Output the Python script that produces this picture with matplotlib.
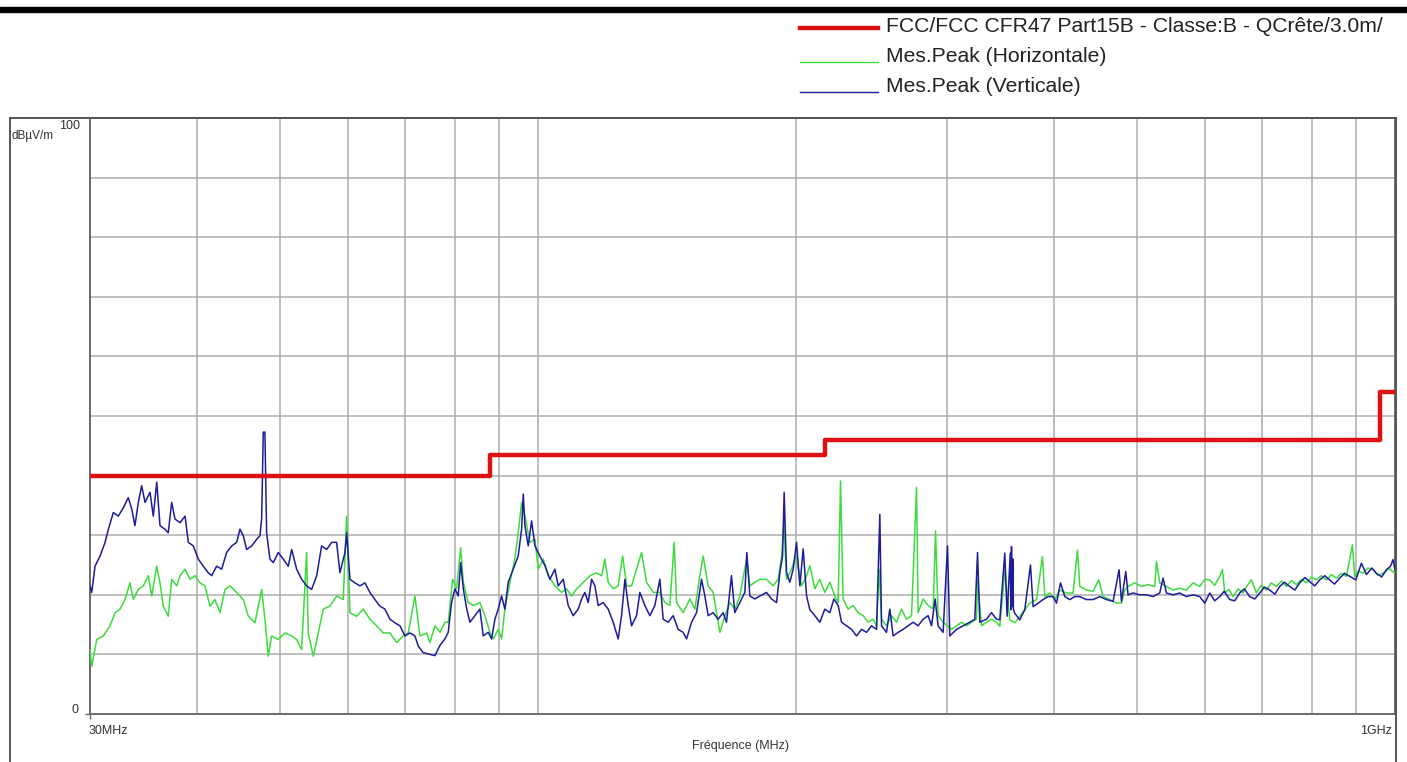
import matplotlib.pyplot as plt
from matplotlib.lines import Line2D
from matplotlib.patches import Rectangle
from matplotlib.ticker import NullFormatter

plt.rcParams['font.family'] = ['Liberation Sans', 'DejaVu Sans']

# FCC CFR47 Part 15B class B limit at 3 m (dBuV/m)
limit_freq = [30, 88, 216, 960, 1000]
limit_level = [40, 43.5, 46, 54, 54]

# peak scan, horizontal antenna polarisation (MHz, dBuV/m)
freq_h = [30.00, 30.14, 30.55, 31.09, 31.66, 32.09, 32.52, 32.96, 33.40, 33.70,
          34.16, 34.62, 35.09, 35.41, 35.89, 36.21, 36.53, 37.02, 37.36, 37.87,
          38.21, 38.73, 39.25, 39.78, 40.31, 40.86, 41.41, 41.97, 42.54, 43.12,
          43.70, 44.49, 45.29, 45.91, 46.73, 47.58, 48.00, 48.43, 48.87, 49.75,
          50.66, 51.58, 52.27, 52.98, 53.69, 53.93, 54.66, 55.40, 56.15, 57.16,
          58.20, 59.24, 59.79, 60.32, 61.40, 62.52, 63.65, 64.80, 65.97, 67.16,
          68.38, 69.61, 70.55, 71.83, 72.80, 74.12, 74.78, 75.80, 76.82, 77.86,
          78.55, 79.48, 80.34, 81.22, 81.80, 82.89, 84.02, 85.53, 86.68, 87.86,
          88.65, 89.84, 90.67, 91.47, 92.71, 93.96, 94.80, 95.67, 96.53, 97.83,
          99.16, 100.04, 101.41, 102.76, 104.63, 106.53, 107.96, 109.43, 110.92, 112.90,
          114.94, 117.02, 118.63, 119.67, 120.74, 122.37, 124.02, 125.51, 126.87, 128.57,
          130.30, 132.06, 133.84, 136.25, 138.72, 140.60, 142.49, 144.16, 145.09, 147.67,
          150.36, 152.40, 154.45, 155.84, 157.94, 160.08, 161.55, 162.98, 165.20, 167.42,
          169.65, 171.98, 175.10, 176.66, 179.05, 181.47, 184.76, 188.09, 190.62, 192.37,
          193.56, 194.97, 197.59, 199.92, 202.99, 205.75, 207.56, 210.37, 213.21, 216.09,
          219.01, 221.98, 223.97, 225.41, 226.97, 230.05, 233.16, 236.34, 239.51, 242.76,
          246.04, 248.31, 250.04, 251.66, 255.04, 258.52, 262.01, 265.55, 269.13, 272.78,
          276.48, 277.66, 281.42, 285.22, 289.09, 290.95, 292.98, 296.94, 300.47, 303.72,
          307.84, 312.08, 316.25, 320.48, 324.83, 325.70, 329.21, 333.67, 338.16, 342.76,
          345.79, 350.47, 355.20, 360.03, 364.87, 369.81, 374.81, 381.64, 387.82, 390.24,
          395.50, 400.86, 406.27, 413.66, 421.04, 426.04, 428.69, 436.46, 444.31, 451.15,
          456.37, 464.67, 473.10, 479.53, 483.86, 488.10, 496.97, 505.97, 515.04, 524.39,
          526.79, 531.47, 541.12, 550.83, 560.81, 570.97, 581.24, 591.76, 600.0, 607.87,
          616.0, 624.43, 629.00, 632.90, 640.0, 647.20, 656.0, 664.80, 672.0, 679.90,
          689.10, 698.0, 707.80, 717.0, 727.20, 737.0, 747.00, 757.0, 767.30, 778.0,
          788.20, 799.0, 809.70, 820.0, 831.70, 843.0, 854.40, 866.0, 877.60, 891.80,
          897.40, 907.0, 917.70, 930.0, 942.70, 955.0, 968.10, 984.0, 1000.0]
level_h = [10.8, 8.0, 12.5, 13.1, 14.8, 17.0, 17.6, 19.2, 22.0, 19.2,
           20.9, 21.5, 23.2, 19.8, 24.8, 22.0, 18.1, 16.4, 22.6, 21.5,
           23.2, 24.3, 22.6, 23.2, 22.0, 21.5, 18.1, 19.2, 17.0, 20.9,
           21.5, 20.4, 19.2, 16.4, 15.3, 20.9, 15.9, 9.7, 13.1, 12.5,
           13.6, 13.1, 12.5, 10.8, 27.1, 13.6, 9.7, 13.6, 17.6, 18.1,
           19.8, 19.2, 33.2, 17.0, 16.4, 17.6, 15.9, 14.8, 13.6, 13.6,
           12.0, 13.1, 13.6, 19.8, 13.1, 13.6, 12.0, 14.8, 13.7, 15.4,
           15.4, 22.6, 21.0, 27.9, 22.1, 18.7, 18.2, 18.7, 16.5, 13.7,
           12.6, 14.2, 12.6, 17.6, 22.1, 26.0, 30.4, 35.5, 33.2, 28.8,
           29.3, 24.3, 26.0, 23.2, 21.5, 20.4, 21.0, 19.8, 21.0, 22.1,
           23.2, 23.7, 23.2, 26.0, 22.1, 21.0, 21.5, 26.5, 21.5, 21.5,
           24.3, 27.1, 22.1, 20.4, 20.4, 18.7, 18.2, 28.8, 18.7, 17.0,
           19.3, 17.6, 23.2, 26.5, 21.5, 20.4, 17.0, 13.7, 16.5, 18.7,
           17.6, 19.8, 26.0, 21.5, 22.1, 22.6, 22.6, 21.5, 22.6, 26.5,
           32.1, 22.6, 24.3, 26.5, 21.5, 23.2, 24.9, 21.0, 22.6, 20.4,
           22.1, 19.8, 18.7, 39.1, 19.3, 17.6, 18.2, 17.0, 16.5, 15.4,
           15.9, 14.8, 24.3, 15.9, 14.8, 16.5, 15.4, 17.6, 15.9, 16.5,
           38.0, 17.0, 19.3, 18.2, 17.6, 30.7, 16.5, 15.4, 14.8, 14.2,
           14.8, 15.4, 14.8, 15.4, 15.9, 22.6, 14.8, 15.4, 15.9, 15.4,
           14.7, 24.0, 15.8, 15.3, 16.4, 17.5, 18.6, 19.2, 26.4, 19.7,
           20.3, 19.2, 20.8, 20.3, 20.3, 27.5, 21.4, 20.8, 20.6, 22.5,
           19.7, 19.2, 18.6, 18.6, 20.8, 21.4, 22.0, 21.4, 21.7, 21.4,
           25.6, 22.0, 21.4, 20.8, 21.1, 20.8, 22.0, 21.4, 22.6, 22.5,
           21.6, 23.1, 24.2, 20.3, 20.9, 19.7, 21.0, 20.3, 21.5, 22.5,
           20.3, 21.6, 20.8, 22.0, 21.4, 22.3, 21.4, 22.4, 21.7, 22.6,
           22.0, 23.0, 22.5, 23.2, 22.5, 23.4, 22.8, 23.6, 23.1, 28.4,
           23.1, 24.0, 23.6, 24.5, 24.2, 23.3, 23.6, 24.4, 23.6]

# peak scan, vertical antenna polarisation (MHz, dBuV/m)
freq_v = [30.00, 30.14, 30.41, 30.82, 31.24, 31.52, 31.94, 32.37, 32.81, 33.25,
          33.56, 33.85, 34.16, 34.47, 34.78, 35.25, 35.56, 35.89, 36.21, 36.70,
          37.02, 37.36, 37.70, 38.21, 38.73, 39.07, 39.60, 40.13, 40.67, 41.22,
          41.60, 42.16, 42.73, 43.31, 43.90, 44.49, 44.89, 45.29, 45.70, 46.32,
          46.95, 47.36, 47.58, 47.79, 48.00, 48.22, 48.65, 49.09, 49.75, 50.42,
          51.11, 51.58, 52.27, 52.98, 53.69, 54.42, 55.16, 55.90, 56.66, 57.42,
          58.20, 58.72, 59.52, 59.79, 60.32, 61.14, 61.96, 62.80, 63.65, 64.51,
          65.38, 66.27, 67.16, 68.07, 68.99, 69.93, 70.87, 71.83, 72.47, 73.45,
          74.78, 75.80, 76.82, 77.86, 78.55, 79.26, 79.98, 80.69, 81.22, 81.80,
          82.56, 83.27, 84.39, 85.53, 86.30, 87.46, 88.26, 89.05, 89.84, 90.67,
          91.47, 92.30, 93.54, 94.80, 95.67, 96.10, 96.53, 97.39, 98.28, 99.16,
          100.49, 101.86, 103.23, 104.63, 105.56, 106.99, 108.44, 109.90, 111.39, 112.40,
          113.41, 114.42, 115.47, 116.50, 117.54, 119.13, 120.74, 122.37, 124.02, 125.15,
          126.28, 127.42, 128.57, 130.30, 131.46, 133.24, 135.04, 136.87, 138.72, 139.96,
          141.85, 143.76, 145.71, 147.67, 149.04, 151.05, 153.09, 155.16, 156.55, 157.94,
          160.08, 162.24, 164.42, 165.91, 168.15, 169.65, 171.98, 174.30, 175.24, 176.66,
          179.05, 181.47, 184.76, 187.26, 189.79, 191.49, 192.89, 193.72, 194.97, 196.70,
          198.47, 200.28, 202.06, 203.88, 205.75, 207.56, 210.37, 213.21, 216.09, 219.01,
          221.40, 223.97, 226.02, 229.07, 232.17, 235.31, 238.49, 241.72, 244.99, 248.31,
          250.50, 251.66, 255.04, 257.32, 259.63, 263.14, 266.70, 270.30, 273.96, 277.66,
          281.42, 285.22, 287.84, 290.64, 292.98, 296.94, 300.47, 302.32, 307.84, 313.40,
          319.01, 323.34, 325.70, 327.70, 333.67, 338.16, 342.76, 345.79, 350.47, 352.64,
          355.70, 356.20, 356.84, 357.40, 358.10, 358.70, 360.03, 364.87, 369.81, 375.51,
          378.18, 383.27, 388.44, 393.71, 399.06, 402.73, 407.03, 411.80, 417.33, 422.97,
          428.69, 436.46, 444.31, 452.35, 460.58, 468.82, 476.43, 479.53, 485.11, 488.10,
          494.73, 503.67, 512.82, 522.02, 531.47, 536.25, 541.12, 550.83, 560.81, 570.97,
          581.24, 591.76, 599.80, 607.87, 616.0, 624.43, 632.0, 641.43, 650.0, 658.89,
          667.0, 676.83, 686.0, 695.26, 704.0, 714.19, 724.0, 733.64, 743.0, 753.61,
          764.0, 774.13, 785.0, 795.21, 806.0, 816.86, 828.0, 839.11, 850.0, 861.95,
          873.0, 885.42, 900.0, 913.70, 926.10, 940.0, 951.30, 965.0, 977.20, 988.0,
          994.80, 1000.0]
level_v = [21.5, 20.4, 24.8, 26.5, 28.8, 31.0, 33.8, 33.2, 34.6, 36.3,
           34.4, 31.6, 35.5, 38.3, 35.5, 37.2, 33.2, 38.9, 31.6, 31.0,
           30.4, 35.5, 32.7, 32.1, 33.2, 28.8, 28.2, 26.0, 24.8, 23.7,
           23.2, 24.8, 24.3, 27.1, 28.2, 28.8, 31.0, 29.9, 27.6, 28.2,
           29.3, 29.9, 32.7, 47.3, 47.3, 30.4, 26.0, 25.4, 27.1, 26.0,
           24.8, 27.6, 24.3, 22.6, 21.5, 20.9, 23.2, 28.2, 27.6, 28.8,
           28.8, 23.7, 27.1, 30.4, 22.6, 22.0, 21.5, 22.0, 20.4, 19.2,
           18.1, 17.6, 15.9, 15.3, 14.8, 13.1, 13.6, 13.1, 11.4, 10.3,
           10.0, 9.8, 11.5, 12.6, 13.7, 18.7, 21.0, 19.8, 25.4, 21.0,
           17.6, 15.4, 16.5, 17.6, 13.1, 13.7, 12.6, 15.9, 17.6, 19.8,
           17.6, 22.1, 24.3, 26.5, 31.0, 36.9, 31.6, 28.2, 32.4, 28.2,
           26.5, 24.9, 22.6, 24.3, 21.5, 22.6, 18.2, 16.5, 17.6, 19.3,
           20.4, 18.7, 22.6, 21.5, 18.2, 18.7, 17.6, 15.4, 12.6, 16.5,
           22.6, 18.2, 14.8, 16.5, 20.4, 18.2, 16.5, 18.2, 22.6, 15.9,
           15.4, 16.5, 14.2, 13.7, 12.6, 15.4, 17.0, 22.6, 19.8, 16.5,
           17.0, 15.9, 17.0, 15.4, 23.2, 17.0, 18.7, 20.4, 27.1, 19.8,
           19.3, 19.8, 20.4, 19.3, 18.7, 23.7, 26.5, 37.2, 23.7, 22.1,
           24.3, 28.8, 21.5, 27.7, 19.8, 17.5, 16.5, 15.4, 17.6, 17.0,
           19.3, 18.2, 15.4, 14.8, 14.2, 13.1, 14.2, 13.7, 14.8, 14.2,
           33.5, 14.8, 13.7, 17.6, 13.1, 13.7, 14.2, 14.8, 15.4, 14.8,
           15.9, 16.5, 14.8, 19.3, 14.8, 13.7, 28.2, 13.1, 14.2, 14.8,
           15.4, 15.9, 27.1, 15.4, 15.9, 17.0, 15.9, 15.8, 27.0, 16.4,
           27.0, 17.5, 28.1, 18.0, 26.0, 17.5, 16.9, 15.8, 17.5, 25.0,
           18.0, 18.6, 19.2, 19.7, 19.7, 18.6, 22.0, 19.7, 19.2, 19.7,
           19.7, 19.2, 19.2, 19.7, 19.2, 18.9, 24.2, 18.9, 23.9, 20.0,
           20.3, 20.0, 20.0, 19.7, 20.3, 22.8, 20.3, 20.0, 20.3, 19.7,
           20.0, 19.7, 18.6, 20.3, 19.0, 19.7, 20.6, 19.2, 19.0, 20.3,
           21.0, 19.7, 19.3, 20.3, 21.3, 20.8, 20.1, 21.4, 22.1, 21.4,
           20.8, 22.0, 22.9, 22.2, 21.5, 22.5, 23.2, 22.5, 21.8, 22.8,
           23.6, 23.1, 22.5, 25.3, 23.4, 24.5, 23.6, 23.0, 24.2, 24.8,
           25.9, 24.2]

W, H = 1407, 762
fig = plt.figure(figsize=(W / 100, H / 100), dpi=100)
ax = fig.add_axes([90 / W, 1 - 714 / H, 1305 / W, 596 / H])

ax.plot(freq_h, level_h, color='#3ddc3d', lw=1.1, zorder=3)
ax.plot(freq_v, level_v, color='#1c1c9c', lw=1.1, zorder=4)
ax.step(limit_freq, limit_level, where='post', color='#dd1111', lw=3.2, zorder=5)

ax.set_xscale('log')
ax.set_xlim(30, 1000)
ax.set_ylim(0, 100)

ax.set_xticks([30], labels=[''])
ax.set_xticks([40, 50, 60, 70, 80, 90, 100, 200, 300, 400, 500, 600, 700, 800, 900], minor=True)
ax.xaxis.set_minor_formatter(NullFormatter())
ax.set_yticks([0], labels=[''])
ax.set_yticks(range(10, 100, 10), minor=True)
ax.tick_params(which='major', length=3.5, width=1, color='#666666')
ax.tick_params(which='minor', length=0)
ax.grid(which='minor', color='#adadad', lw=1.1)
for s in ax.spines.values():
    s.set_color('#6a6a6a')
    s.set_linewidth(1.4)


def fx(x):
    return x / W


def fy(y):
    return 1 - y / H


# axis annotations
fig.text(fx(80), fy(126), '100', ha='right', va='center', fontsize=9, color='#333333')
fig.text(fx(12), fy(136), 'dBµV/m', ha='left', va='center', fontsize=8.5, color='#333333')
fig.text(fx(79), fy(710), '0', ha='right', va='center', fontsize=9, color='#333333')
fig.text(fx(89), fy(731), '30MHz', ha='left', va='center', fontsize=9, color='#333333')
fig.text(fx(1392), fy(731), '1GHz', ha='right', va='center', fontsize=9, color='#333333')
fig.text(fx(740), fy(746), 'Fréquence (MHz)', ha='center', va='center', fontsize=9, color='#333333')

# outer frame and top bar
for (x0, y0, x1, y1) in [(10, 118, 10, 762), (10, 118, 1396, 118), (1396, 118, 1396, 762)]:
    fig.add_artist(Line2D([fx(x0), fx(x1)], [fy(y0), fy(y1)], color='#555555', lw=1.4))
fig.add_artist(Rectangle((0, fy(11.5)), 1, 5 / H, color='black', transform=fig.transFigure))

# legend
entries = [('FCC/FCC CFR47 Part15B - Classe:B - QCrête/3.0m/', '#dd1111', 3.2, 28, 27),
           ('Mes.Peak (Horizontale)', '#3ddc3d', 1.0, 62, 56),
           ('Mes.Peak (Verticale)', '#1c1c9c', 1.0, 92, 86)]
for label, color, lw, yl, yt in entries:
    fig.add_artist(Line2D([fx(800), fx(878)], [fy(yl), fy(yl)], color=color, lw=lw))
    fig.text(fx(886), fy(yt), label, ha='left', va='center', fontsize=15.2, color='#222222')

fig.savefig('out.png', dpi=100)
